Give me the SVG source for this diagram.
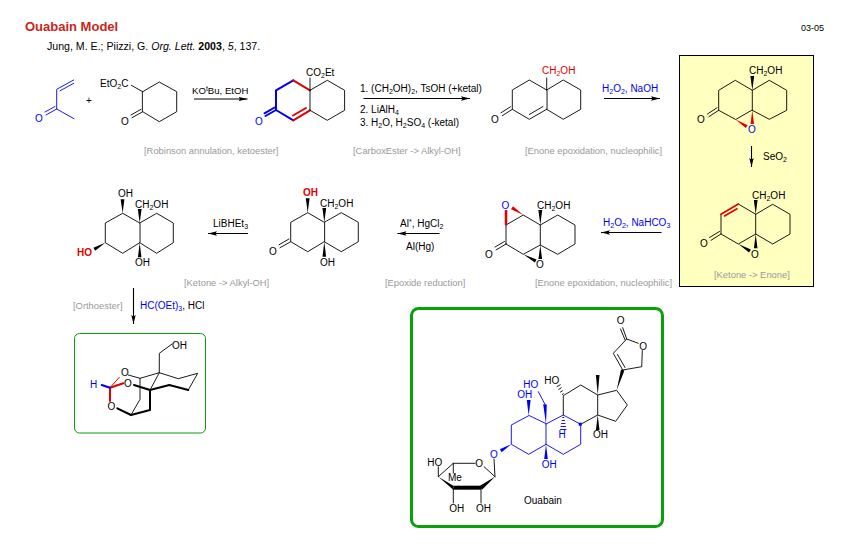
<svg xmlns="http://www.w3.org/2000/svg" width="854" height="544" viewBox="0 0 854 544">
<defs>
<marker id="ah" markerUnits="userSpaceOnUse" markerWidth="10" markerHeight="6" viewBox="0 -3 10 6" refX="9" refY="0" orient="auto"><path d="M0-2.2L9 0L0 2.2L1.5 0z" fill="#000"/></marker>
</defs>
<style>
text{font-family:"Liberation Sans",Arial,sans-serif;font-size:10px;fill:#000}
.cap{fill:#999;font-size:9.4px}
.bl{fill:#0000f0}
.rd{fill:#e00000}
.b{stroke:#000;stroke-width:.9;fill:none;stroke-linecap:round;stroke-linejoin:round}
.bb{stroke:#0000f0;stroke-width:.9;fill:none;stroke-linecap:round;stroke-linejoin:round}
.rr{stroke:#e00000;stroke-width:2;fill:none;stroke-linecap:round;stroke-linejoin:round}
.bt{stroke:#0000f0;stroke-width:2;fill:none;stroke-linecap:round;stroke-linejoin:round}
.thk{stroke:#000;stroke-width:2;fill:none;stroke-linecap:round;stroke-linejoin:round}
.arr{stroke:#000;stroke-width:1.1;fill:none;marker-end:url(#ah)}
.w{fill:#000}.wb{fill:#0000f0}.wr{fill:#e00000}
.s{font-size:7px}
</style>
<rect width="854" height="544" fill="#fff"/>
<g id="header">
<text x="25" y="31" style="font-size:13px;font-weight:bold;fill:#c8261c">Ouabain Model</text>
<text x="47" y="50" style="font-size:10.6px">Jung, M. E.; Piizzi, G. <tspan font-style="italic">Org. Lett.</tspan> <tspan font-weight="bold">2003</tspan>, <tspan font-style="italic">5</tspan>, 137.</text>
<text x="801" y="31" style="font-size:9px">03-05</text>
</g>
<g id="boxes">
<rect x="679.5" y="55.5" width="134" height="231" fill="#ffffc0" stroke="#000" stroke-width="1"/>
<rect x="74.5" y="333.5" width="131" height="99.5" rx="5" fill="#fff" stroke="#0a9a0a" stroke-width="1"/>
<rect x="411.5" y="308.5" width="251" height="218" rx="7" fill="#fff" stroke="#0aa00a" stroke-width="3"/>
</g>
<g id="connectors">
<path class="arr" d="M194 99H247.5"/>
<path class="arr" d="M363.5 98.500H470"/>
<path class="arr" d="M604 98.500H660"/>
<path class="arr" d="M751.500 146V167"/>
<path class="arr" d="M661.500 232.500H601"/>
<path class="arr" d="M439.500 233.500H397.500"/>
<path class="arr" d="M248 233.500H208"/>
<path class="arr" d="M133.500 288V324"/>
</g>
<g id="labels">
<text x="192" y="94" style="font-size:9.6px">KO<tspan class="s" dy="-3">t</tspan><tspan dy="3">Bu, EtOH</tspan></text>
<text x="144" y="154" class="cap">[Robinson annulation, ketoester]</text>
<text x="360" y="92">1. (CH<tspan class="s" dy="2">2</tspan><tspan dy="-2">OH)</tspan><tspan class="s" dy="2">2</tspan><tspan dy="-2">, TsOH (+ketal)</tspan></text>
<text x="360" y="113">2. LiAlH<tspan class="s" dy="2">4</tspan></text>
<text x="360" y="126">3. H<tspan class="s" dy="2">2</tspan><tspan dy="-2">O, H</tspan><tspan class="s" dy="2">2</tspan><tspan dy="-2">SO</tspan><tspan class="s" dy="2">4</tspan><tspan dy="-2"> (-ketal)</tspan></text>
<text x="353" y="154" class="cap">[CarboxEster -&gt; Alkyl-OH]</text>
<text x="602" y="92" class="bl">H<tspan class="s" dy="2">2</tspan><tspan dy="-2">O</tspan><tspan class="s" dy="2">2</tspan><tspan dy="-2">, NaOH</tspan></text>
<text x="525" y="154" class="cap">[Enone epoxidation, nucleophilic]</text>
<text x="763" y="160">SeO<tspan class="s" dy="2">2</tspan></text>
<text x="714" y="278" class="cap">[Ketone -&gt; Enone]</text>
<text x="603" y="226" class="bl">H<tspan class="s" dy="2">2</tspan><tspan dy="-2">O</tspan><tspan class="s" dy="2">2</tspan><tspan dy="-2">, NaHCO</tspan><tspan class="s" dy="2">3</tspan></text>
<text x="535" y="286" class="cap">[Enone epoxidation, nucleophilic]</text>
<text x="400" y="227">Al<tspan class="s" dy="-3">*</tspan><tspan dy="3">, HgCl</tspan><tspan class="s" dy="2">2</tspan></text>
<text x="406" y="250">Al(Hg)</text>
<text x="385" y="286" class="cap">[Epoxide reduction]</text>
<text x="213" y="227">LiBHEt<tspan class="s" dy="2">3</tspan></text>
<text x="184" y="286" class="cap">[Ketone -&gt; Alkyl-OH]</text>
<text x="73" y="309" class="cap">[Orthoester]</text>
<text x="140" y="309"><tspan class="bl">HC(OEt)</tspan><tspan class="bl s" dy="2">3</tspan><tspan dy="-2">, HCl</tspan></text>
<text x="524" y="504">Ouabain</text>
<text x="89" y="103.500" text-anchor="middle">+</text>
</g>
<g id="mvk">
<path class="bb" d="M73.700 80L56.700 89.300V109L74 118.700M60 90.800L73.700 83.300M56.700 109L46 115M55 106.500L45 112"/>
<text x="35" y="122" class="bl">O</text>
</g>
<g id="ketoester">
<path class="b" d="M142.700 91.700L159.300 82L176.700 91.700V111.700L159.300 121.700L142.700 111.700ZM131.300 85.300L142.700 91.700M142.700 111.700L132 117.700M141 109.300L131 115"/>
<text x="100" y="87">EtO<tspan class="s" dy="2">2</tspan><tspan dy="-2">C</tspan></text>
<text x="121" y="125">O</text>
</g>
<g id="enone-ester">
<path class="bt" d="M293.300 80.300L276 90.300V110L293.300 120.300M276 110L265.500 116M274.500 107.500L264.500 113.300"/>
<path class="rr" d="M293.300 80.300L310 90.300M293.300 120.300L310 110.300M293 115.500L306 108"/>
<path class="b" d="M310 90.300V110.300M310 90.300L327.300 80.300L344.600 90.300V110.300L327.300 120.300L310 110.300M310 90.300V78"/>
<text x="306" y="76">CO<tspan class="s" dy="2">2</tspan><tspan dy="-2">Et</tspan></text>
<text x="255" y="125" class="bl">O</text>
</g>
<g id="enone-alcohol">
<path class="b" d="M546.700 90L529.300 80L512.300 90V109.300L529.300 119.300L546.700 109.300ZM546.700 90L563.300 80L580.700 90V109.300L563.300 119.300L546.700 109.300M529.300 114.500L543 106.500M546.700 90V78M512.300 109.300L502.300 115.700M510.500 106.800L501 112.800"/>
<text x="542" y="74" style="fill:#e00000">CH<tspan class="s" dy="2">2</tspan><tspan dy="-2">OH</tspan></text>
<text x="491" y="123">O</text>
</g>
<g id="epoxide-1">
<path class="b" d="M735.300 119.300L718.700 110.300V90.300L735.300 80.300L752.300 90.300L769.300 80.300L786.700 90.300V110.300L769.300 119.300L752.300 110.300ZM752.300 90.300V110.300M718.700 110.300L708.900 116.700M717 107.800L707.500 114"/>
<polygon class="w" points="752.300,90.300 750.400,76 754.200,76"/>
<polygon class="wr" points="735.300,119.300 745.800,128.100 747.600,125.300"/>
<polygon class="wr" points="752.300,110.300 750.600,124 754,124"/>
<text x="749" y="74">CH<tspan class="s" dy="2">2</tspan><tspan dy="-2">OH</tspan></text>
<text x="697" y="123">O</text>
<text x="748" y="133" class="bl">O</text>
</g>
<g id="enone-epoxide">
<path class="b" d="M738.300 204L755.700 214.300L772.700 204.300L790 214.300V234L772.700 244L755.700 234L738.300 244L721 234V214.300M755.700 214.300V234M721 234L711 240.300M719.500 231.500L709.500 237.500"/>
<path class="rr" d="M721 214.300L738.300 204M724.500 216L737 208.800" style="stroke-width:1.600"/>
<polygon class="w" points="755.700,214.300 753.800,200 757.600,200"/>
<polygon class="w" points="738.300,244 749.100,252.500 750.900,249.500"/>
<polygon class="w" points="755.700,234 753.900,248.300 757.500,248.300"/>
<text x="752" y="199">CH<tspan class="s" dy="2">2</tspan><tspan dy="-2">OH</tspan></text>
<text x="700" y="247">O</text>
<text x="751" y="258">O</text>
</g>
<g id="diepoxide">
<path class="b" d="M506 225L523.300 215L540.300 225L557.700 215L575 225V244L557.700 254.300L540.300 245L523.300 254.300L506 244M506 225V244M540.300 225V245M506 244L496 250M504.500 241.500L495 247"/>
<polygon class="w" points="540.300,225 538.400,210 542.200,210"/>
<polygon class="w" points="523.300,254.300 534.850,262.600 536.550,259.400"/>
<polygon class="w" points="540.300,245 538.500,259 542.100,259"/>
<path d="M506 225V210" stroke="#e00000" stroke-width="2.500"/>
<polygon class="wr" points="523.300,215 513,206.200 511,209.200"/>
<text x="537" y="209">CH<tspan class="s" dy="2">2</tspan><tspan dy="-2">OH</tspan></text>
<text x="501.500" y="209" class="bl">O</text>
<text x="485" y="258">O</text>
<text x="536" y="268">O</text>
</g>
<g id="hydroxyketone">
<path class="b" d="M324.300 222.300L307.700 212.700L290.700 222.300V241.700L307.700 251.700L324.300 241.700ZM324.300 222.300L341.300 212.700L358.300 222.300V241.700L341.300 251.700L324.300 241.700M290.700 241.700L280 247.700M289 239L279 244.800"/>
<polygon class="w" points="324.300,222.300 322.400,208 326.200,208"/>
<polygon class="w" points="307.700,212.700 305.800,198.300 309.600,198.300"/>
<polygon class="w" points="324.300,241.700 322.500,256.700 326.100,256.700"/>
<text x="320" y="207">CH<tspan class="s" dy="2">2</tspan><tspan dy="-2">OH</tspan></text>
<text x="303" y="196" style="fill:#e00000;font-weight:bold">OH</text>
<text x="269" y="255">O</text>
<text x="320" y="266">OH</text>
</g>
<g id="triol">
<path class="b" d="M139.700 223L122.700 213.300L105.300 223V242.700L122.700 253.300L139.700 242.700ZM139.700 223L156.700 213.300L173.300 223V242.700L156.700 253.300L139.700 242.700"/>
<polygon class="w" points="139.700,223 137.800,209 141.600,209"/>
<polygon class="w" points="122.700,213.300 120.600,199.300 124.400,199.300"/>
<polygon class="w" points="139.700,242.700 137.900,257.300 141.500,257.300"/>
<polygon class="w" points="105.300,242.700 95.200,250.800 93.400,247.800"/>
<text x="135" y="208">CH<tspan class="s" dy="2">2</tspan><tspan dy="-2">OH</tspan></text>
<text x="118" y="197">OH</text>
<text x="77" y="256" style="fill:#e00000;font-weight:bold">HO</text>
<text x="135" y="266">OH</text>
</g>
<g id="orthoester">
<path class="b" d="M172 344L159.300 353.300V372.700L140 378.300L128.300 375M159.300 372.700L178.300 378.700L197.700 373.300L188.300 390M159.300 372.700L150 390M140 378.300V399.300L131 415"/>
<path class="thk" d="M188.300 390L169.300 385L150 390L134 385M150 390V410L131 415L117.300 408.300"/>
<path class="rr" d="M110 387.700L123.300 383.300M110 387.700V401"/>
<path class="rr" d="M110 387.700L119.300 377.300" style="stroke-width:1"/>
<path class="bt" d="M101.700 385L110 387.700"/>
<text x="172" y="349">OH</text>
<text x="121" y="376">O</text>
<text x="124" y="386.500">O</text>
<text x="107.500" y="410">O</text>
<text x="90" y="388" class="bl">H</text>
</g>
<g id="ouabain">
<path class="bb" d="M528.700 415.700L511.300 425V444.300L528.700 454.300L546 444.300V424ZM546 424L563.300 415L580.700 424.300V444.300L563.300 454.300L546 444.300M545 404.300L538.300 391.700"/>
<path class="b" d="M563.300 415V395.700L580.700 385L597.700 395V415L580.700 424.300M597.700 395L616.700 390.300L627.300 405L615.700 421.300L597.700 415M622.700 370L613.300 353.300L626.700 339L638.300 343.300M642.300 350.700L641.700 366.700L622.700 370M625 367.500L617.500 354.500M626.700 339L622.700 327.700M625 339.800L620.500 329M495 476.700L494 459M495 476.700L484 466.700M475 463.300H453.300L438.300 476.700M453.300 463.300V473M438.300 476.700V466.700M481 487.700V503M453.300 489V503"/>
<polygon class="wb" points="528.700,415.700 526.800,400 530.600,400"/>
<polygon class="wb" points="546,424 543.200,404.200 546.800,404.400"/>
<polygon class="wb" points="511.300,444.300 501.600,452.200 499.800,449.200"/>
<polygon class="wb" points="546,444.300 544.200,459 547.800,459"/>
<rect x="578.700" y="422.700" width="3" height="3" fill="#0000f0"/>
<polygon class="w" points="597.700,395 595.900,375 599.500,375"/>
<polygon class="w" points="616.700,390.300 624.400,370.500 621,369.500"/>
<polygon class="w" points="597.700,415 595.900,430 599.500,430"/>
<path class="bb" d="M562.700 417.500H563.900M562 420.500H564.600M561.500 423.500H565.100M561 426.500H565.600M560.500 429.500H566.100"/>
<path class="b" d="M562.200 394.500L563.400 393.800M560.500 392L562.500 390.800M558.800 389.300L561.300 387.800M557 386.600L560.200 384.800"/>
<path d="M481 487.700H453.300" stroke="#000" stroke-width="4"/>
<polygon class="w" points="495,476.700 480,485.700 482,489.700"/>
<polygon class="w" points="453.300,485.700 453.300,489.700 438.300,476.700"/>
<text x="544.300" y="384">HO</text>
<text x="523.300" y="388.300" class="bl">HO</text>
<text x="517.300" y="398.300" class="bl">OH</text>
<text x="558.500" y="437.700" class="bl">H</text>
<text x="593" y="437.700">OH</text>
<text x="490" y="458" class="bl">O</text>
<text x="541.700" y="467.700" class="bl">OH</text>
<text x="616.800" y="324">O</text>
<text x="639.300" y="350">O</text>
<text x="475.300" y="467">O</text>
<text x="427.300" y="465.700">HO</text>
<text x="448" y="480.700">Me</text>
<text x="449.300" y="511.700">OH</text>
<text x="476" y="511.700">OH</text>
</g>
</svg>
